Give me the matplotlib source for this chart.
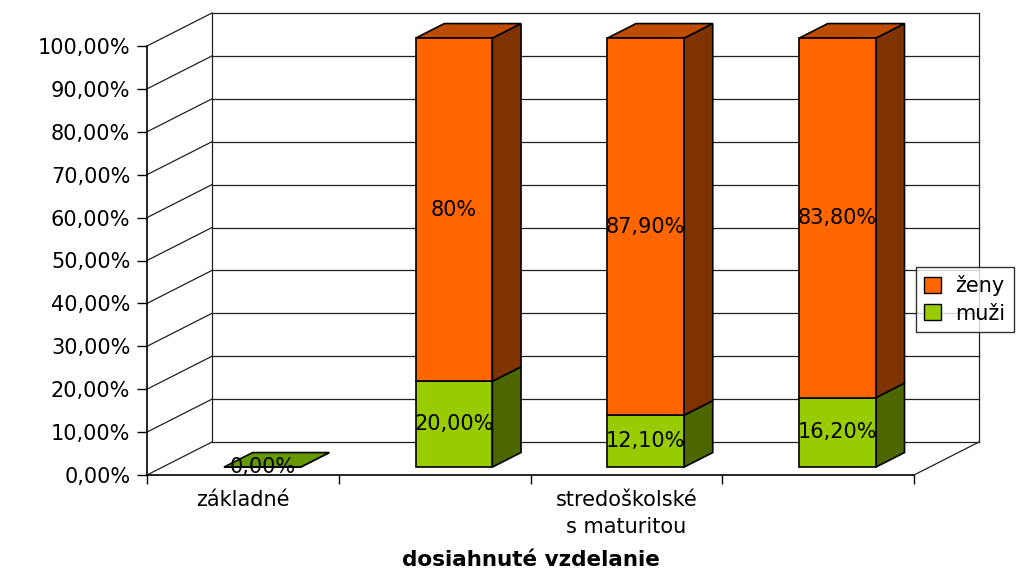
import numpy as np
import matplotlib.pyplot as plt
from matplotlib.patches import Polygon, Patch

# data
tick_labels = ["základné", "", "stredoškolské\ns maturitou", ""]
muzi = [0.0, 20.0, 12.1, 16.2]
zeny = [np.nan, 80.0, 87.9, 83.8]
muzi_labels = ["0,00%", "20,00%", "12,10%", "16,20%"]
zeny_labels = ["", "80%", "87,90%", "83,80%"]
yticks = np.arange(0, 101, 10)
ytick_labels = ["%d,00%%" % v for v in yticks]

plt.rcParams['font.family'] = ['DejaVu Sans']
plt.rcParams['font.size'] = 15

W, H = 1018, 571
fig = plt.figure(figsize=(W / 100, H / 100), dpi=100)
ax = fig.add_axes([147 / W, (H - 475) / H, 767 / W, 429 / H])
n = len(muzi)
ax.set_xlim(0, n)
ax.set_ylim(0, 100)
ax.patch.set_alpha(0)

# depth of the pseudo 3d box, in data units
DX = 65 / 767 * n
DY = 33 / 429 * 100
d0, d1 = 0.24, 0.68
bw = 0.40
shift = 0.02

lk = dict(color='#202020', lw=0.9, clip_on=False, zorder=1)
for v in yticks:
    ax.plot([DX, n + DX], [v + DY, v + DY], **lk)
    ax.plot([0, DX], [v, v + DY], **lk)
ax.plot([DX, DX], [DY, 100 + DY], **lk)
ax.plot([n + DX, n + DX], [DY, 100 + DY], **lk)
ax.plot([n, n + DX], [0, DY], **lk)

def box(x0, b, t, cols, top):
    front, side, topc = cols
    x1 = x0 + bw
    fx0, fx1 = x0 + d0 * DX, x1 + d0 * DX
    bx1 = x1 + d1 * DX
    fb, ft = b + d0 * DY, t + d0 * DY
    bb, bt = b + d1 * DY, t + d1 * DY
    kw = dict(edgecolor='black', lw=1.2, clip_on=False, zorder=3, joinstyle='miter')
    ax.add_patch(Polygon([(fx1, fb), (bx1, bb), (bx1, bt), (fx1, ft)], facecolor=side, **kw))
    if top:
        ax.add_patch(Polygon([(fx0, ft), (fx1, ft), (bx1, bt), (x0 + d1 * DX, bt)], facecolor=topc, **kw))
    ax.add_patch(Polygon([(fx0, fb), (fx1, fb), (fx1, ft), (fx0, ft)], facecolor=front, **kw))

green = ('#99CC00', '#4C6600', '#669900')
orange = ('#FF6600', '#7F3300', '#BF4C00')

for i in range(n):
    x0 = i + 0.5 - bw / 2 + shift
    xc = i + 0.5 + shift + d0 * DX
    m = muzi[i]
    z = zeny[i]
    box(x0, 0, m, green, np.isnan(z))
    if not np.isnan(z):
        box(x0, m, m + z, orange, True)
        ax.text(xc, m + z / 2 + d0 * DY, zeny_labels[i], ha='center', va='center', zorder=5)
    ax.text(xc, m / 2 + d0 * DY, muzi_labels[i], ha='center', va='center', zorder=5)

ax.spines['top'].set_visible(False)
ax.spines['right'].set_visible(False)
ax.spines['left'].set_linewidth(1.2)
ax.spines['bottom'].set_linewidth(1.2)

ax.set_yticks(yticks, ytick_labels)
ax.tick_params(axis='y', length=7, width=1, pad=5)
ax.set_xticks(np.arange(n + 1))
ax.set_xticklabels([])
ax.tick_params(axis='x', which='major', length=6.5, width=1)
ax.set_xticks(np.arange(n) + 0.5, minor=True)
ax.set_xticklabels(tick_labels, minor=True, linespacing=1.45)
ax.tick_params(axis='x', which='minor', length=0, pad=11)
ax.set_xlabel("dosiahnuté vzdelanie", fontweight='bold', fontsize=15.5, labelpad=9)

handles = [Patch(facecolor=orange[0], edgecolor='black', label='ženy'),
           Patch(facecolor=green[0], edgecolor='black', label='muži')]
leg = fig.legend(handles=handles, loc='upper left', bbox_to_anchor=(916 / W, 1 - 267 / H),
                 frameon=True, fancybox=False, borderaxespad=0, handlelength=0.8,
                 handleheight=0.8, handletextpad=0.7, labelspacing=0.35, borderpad=0.4)
leg.get_frame().set_edgecolor('black')
leg.get_frame().set_linewidth(1)

fig.savefig('out.png', dpi=100)
